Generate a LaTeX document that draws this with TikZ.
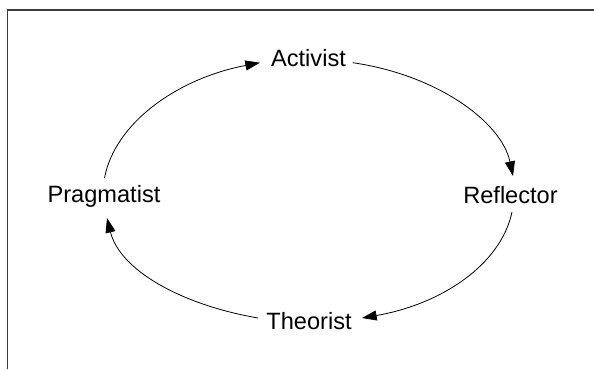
\documentclass[tikz,border=0pt]{standalone}
\usepackage{fontspec}
\setmainfont{Liberation Sans}
\usetikzlibrary{arrows.meta}
\begin{document}
\begin{tikzpicture}[x=0.75pt,y=-0.75pt,
  lbl/.style={anchor=base,inner sep=0pt,font=\fontsize{17.7}{21}\selectfont},
  arr/.style={line width=0.6pt,-{Triangle[length=11pt,width=7.5pt]}},
  frame/.style={line width=1pt,draw={rgb,255:red,60;green,60;blue,60}}]
\useasboundingbox (0,0) rectangle (594,369);
\draw[frame] (7.5,369) -- (7.5,10) -- (594,10);
\node[lbl] (act) at (308.5,66.5) {Activist};
\node[lbl] (ref) at (510.5,203) {Reflector};
\node[lbl] (the) at (309,329) {Theorist};
\node[lbl] (pra) at (104,202.3) {Pragmatist};
\draw[arr] ([shift={(0.5,-24.4)}]pra.base) .. controls (114.9,123.2) and (177,78.5) .. ([shift={(-48.5,-3.8)}]act.base);
\draw[arr] ([shift={(44.2,-3.8)}]act.base) .. controls (436.3,74.7) and (501.4,121.4) .. ([shift={(2.5,-27)}]ref.base);
\draw[arr] ([shift={(1.5,9)}]ref.base) .. controls (500.8,264.6) and (441.7,304.2) .. ([shift={(53,-11)}]the.base);
\draw[arr] ([shift={(-51,-11)}]the.base) .. controls (179.8,304.5) and (119.7,269.5) .. ([shift={(3,15.7)}]pra.base);
\end{tikzpicture}
\end{document}
